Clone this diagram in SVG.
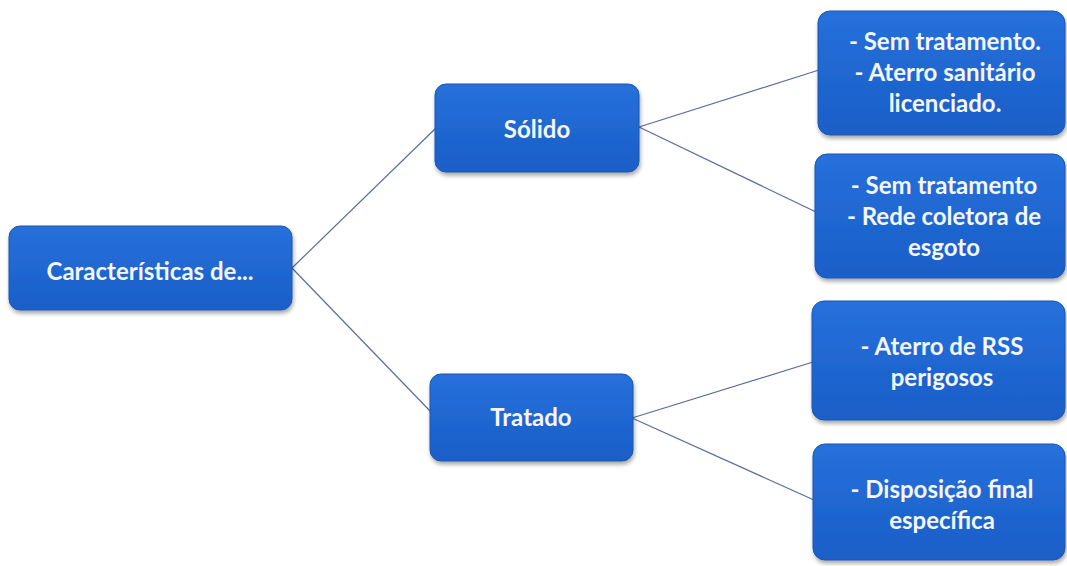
<svg xmlns="http://www.w3.org/2000/svg" width="1067" height="566" viewBox="0 0 1067 566">
  <defs>
    <linearGradient id="boxFill" x1="0" y1="0" x2="0" y2="1">
      <stop offset="0" stop-color="#2670db"/>
      <stop offset="1" stop-color="#1a5ec8"/>
    </linearGradient>
    <filter id="shadow" x="-10%" y="-10%" width="120%" height="130%">
      <feGaussianBlur in="SourceAlpha" stdDeviation="2"/>
      <feOffset dx="1" dy="3" result="b"/>
      <feComponentTransfer><feFuncA type="linear" slope="0.35"/></feComponentTransfer>
      <feMerge><feMergeNode/><feMergeNode in="SourceGraphic"/></feMerge>
    </filter>
  </defs>
  <style>
    .box { fill: url(#boxFill); stroke: #1a56b0; stroke-width: 1; filter: url(#shadow); }
    .lbl { font-family: Lato, "Open Sans", "Liberation Sans", sans-serif; font-weight: 700; font-size: 24px; fill: #f4f6fb; text-anchor: middle; }
    .link { stroke: #5b6d9c; stroke-width: 1.2; fill: none; }
  </style>
  <rect width="1067" height="566" fill="#ffffff"/>

  <g id="connectors">
    <line class="link" x1="292" y1="268" x2="436" y2="128"/>
    <line class="link" x1="292" y1="268" x2="431" y2="412"/>
    <line class="link" x1="639" y1="127" x2="819" y2="70"/>
    <line class="link" x1="639" y1="127" x2="816" y2="212"/>
    <line class="link" x1="632" y1="418" x2="813" y2="362"/>
    <line class="link" x1="632" y1="418" x2="814" y2="500"/>
  </g>

  <g id="root">
    <rect class="box" x="9" y="226" width="283" height="84" rx="11"/>
    <text class="lbl" x="150" y="280">Características de...</text>
  </g>

  <g id="solido">
    <rect class="box" x="435" y="84" width="204" height="88" rx="11"/>
    <text class="lbl" x="537" y="138">Sólido</text>
  </g>

  <g id="tratado">
    <rect class="box" x="430" y="374" width="203" height="87" rx="11"/>
    <text class="lbl" x="531" y="426">Tratado</text>
  </g>

  <g id="aterro-sanitario">
    <rect class="box" x="818" y="11" width="247" height="124" rx="12"/>
    <text class="lbl" x="945" y="50">- Sem tratamento.</text>
    <text class="lbl" x="945" y="81">- Aterro sanitário</text>
    <text class="lbl" x="945" y="112">licenciado.</text>
  </g>

  <g id="rede-coletora">
    <rect class="box" x="815" y="154" width="250" height="124" rx="12"/>
    <text class="lbl" x="944" y="194">- Sem tratamento</text>
    <text class="lbl" x="944" y="225">- Rede coletora de</text>
    <text class="lbl" x="944" y="256">esgoto</text>
  </g>

  <g id="aterro-rss">
    <rect class="box" x="812" y="301" width="253" height="119" rx="12"/>
    <text class="lbl" x="942" y="355">- Aterro de RSS</text>
    <text class="lbl" x="942" y="386">perigosos</text>
  </g>

  <g id="disposicao-final">
    <rect class="box" x="813" y="444" width="252" height="116" rx="12"/>
    <text class="lbl" x="942" y="498">- Disposição final</text>
    <text class="lbl" x="942" y="529">específica</text>
  </g>
</svg>
